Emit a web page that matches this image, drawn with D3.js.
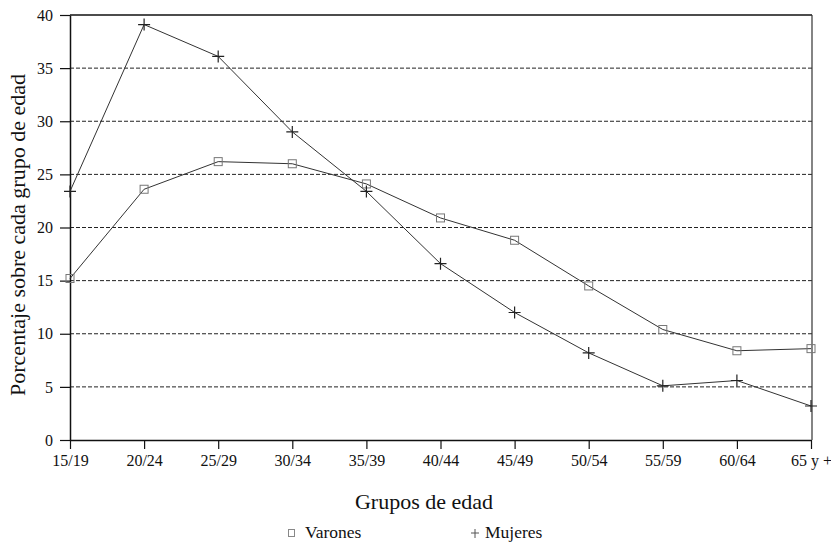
<!DOCTYPE html>
<html>
<head>
<meta charset="utf-8">
<script src="https://cdn.jsdelivr.net/npm/d3@7"></script>
<style>
  body { margin: 0; background: #fff; }
  svg { display: block; }
  text { font-family: "Liberation Serif", "DejaVu Serif", serif; fill: #111; }
</style>
</head>
<body>
<svg id="chart" width="831" height="545"></svg>
<script>
// age groups and the two series (percent over each age group)
var grupos = ["15/19", "20/24", "25/29", "30/34", "35/39", "40/44",
	"45/49", "50/54", "55/59", "60/64", "65 y +"];
var varones = [15.2, 23.6, 26.2, 26.0, 24.1, 20.9, 18.8, 14.5, 10.4, 8.4, 8.6];
var mujeres = [23.4, 39.1, 36.1, 29.0, 23.4, 16.6, 12.0, 8.2, 5.1, 5.6, 3.2];
var yTicks = [0, 5, 10, 15, 20, 25, 30, 35, 40];

var svg = d3.select("#chart");

// plot box (note: "top" is reserved on window, so use other names)
var plotLeft = 70, plotRight = 811, plotTop = 15, plotBottom = 440;

var x = d3.scalePoint().domain(grupos).range([plotLeft, plotRight]);
var y = d3.scaleLinear().domain([0, 40]).range([plotBottom, plotTop]);

// dashed grid lines
svg.append("g")
	.selectAll("line")
	.data(yTicks.filter(function (d) { return d > 0 && d < 40; }))
	.enter().append("line")
	.attr("x1", plotLeft).attr("x2", plotRight + 1)
	.attr("y1", function (d) { return y(d); })
	.attr("y2", function (d) { return y(d); })
	.attr("stroke", "#222")
	.attr("stroke-width", 1)
	.attr("stroke-dasharray", "4,2");

// frame: top and right
svg.append("line")
	.attr("x1", plotLeft).attr("x2", plotRight + 1)
	.attr("y1", y(40)).attr("y2", y(40))
	.attr("stroke", "#111").attr("stroke-width", 1.5);
svg.append("line")
	.attr("x1", plotRight + 1).attr("x2", plotRight + 1)
	.attr("y1", y(40)).attr("y2", plotBottom)
	.attr("stroke", "#333").attr("stroke-width", 1.2);

// y axis
var yAxis = svg.append("g")
	.attr("transform", "translate(" + plotLeft + ",0)")
	.call(d3.axisLeft(y).tickValues(yTicks).tickSize(10).tickPadding(7).tickSizeOuter(0));
yAxis.select(".domain").attr("stroke", "#111").attr("stroke-width", 1.5);
yAxis.selectAll(".tick line").attr("stroke", "#111").attr("stroke-width", 1.2);
yAxis.selectAll("text")
	.style("font-family", "'Liberation Serif', serif")
	.style("font-size", "16px").attr("fill", "#111");

// x axis
var xAxis = svg.append("g")
	.attr("transform", "translate(0," + plotBottom + ")")
	.call(d3.axisBottom(x).tickSize(9).tickPadding(6).tickSizeOuter(0));
xAxis.select(".domain").attr("stroke", "#111").attr("stroke-width", 1.5);
xAxis.selectAll(".tick line").attr("stroke", "#111").attr("stroke-width", 1.2);
xAxis.selectAll("text")
	.style("font-family", "'Liberation Serif', serif")
	.style("font-size", "16px").attr("fill", "#111");

// series lines
var line = d3.line()
	.x(function (d, i) { return x(grupos[i]); })
	.y(function (d) { return y(d); });

svg.append("path").datum(varones)
	.attr("d", line).attr("fill", "none")
	.attr("stroke", "#333").attr("stroke-width", 1);
svg.append("path").datum(mujeres)
	.attr("d", line).attr("fill", "none")
	.attr("stroke", "#333").attr("stroke-width", 1);

// square markers for Varones
svg.append("g").selectAll("rect")
	.data(varones)
	.enter().append("rect")
	.attr("x", function (d, i) { return x(grupos[i]) - 4; })
	.attr("y", function (d) { return y(d) - 4; })
	.attr("width", 8).attr("height", 8)
	.attr("fill", "none").attr("stroke", "#777").attr("stroke-width", 1);

// plus markers for Mujeres
svg.append("g").selectAll("path")
	.data(mujeres)
	.enter().append("path")
	.attr("transform", function (d, i) { return "translate(" + x(grupos[i]) + "," + y(d) + ")"; })
	.attr("d", "M-6,0H6M0,-6V6")
	.attr("stroke", "#222").attr("stroke-width", 1.2);

// axis titles
svg.append("text")
	.attr("x", 424).attr("y", 509)
	.attr("text-anchor", "middle")
	.style("font-size", "22px")
	.text("Grupos de edad");

svg.append("text")
	.attr("transform", "translate(25,235) rotate(-90)")
	.attr("text-anchor", "middle")
	.style("font-size", "22px")
	.text("Porcentaje sobre cada grupo de edad");

// legend
var legend = svg.append("g");
legend.append("rect")
	.attr("x", 288.5).attr("y", 529.5).attr("width", 6).attr("height", 7)
	.attr("fill", "none").attr("stroke", "#888").attr("stroke-width", 1);
legend.append("text")
	.attr("x", 305).attr("y", 538)
	.style("font-size", "17.5px")
	.text("Varones");
legend.append("path")
	.attr("transform", "translate(475,533)")
	.attr("d", "M-4,0H4M0,-4V5")
	.attr("stroke", "#555").attr("stroke-width", 1);
legend.append("text")
	.attr("x", 485).attr("y", 538)
	.style("font-size", "17.5px")
	.text("Mujeres");
</script>
</body>
</html>
